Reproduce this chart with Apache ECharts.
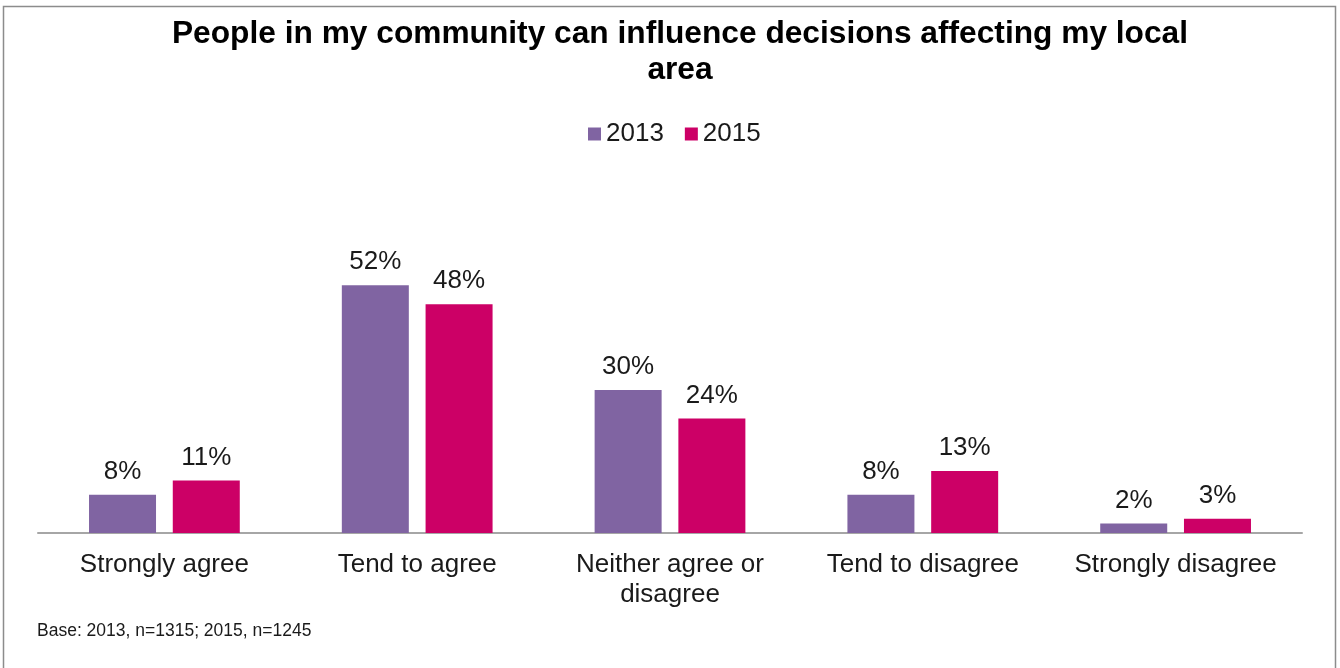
<!DOCTYPE html>
<html>
<head>
<meta charset="utf-8">
<script src="https://cdn.jsdelivr.net/npm/echarts@6/dist/echarts.min.js"></script>
<style>
  html, body { margin: 0; padding: 0; background: #fff; }
  #chart { width: 1340px; height: 668px; }
</style>
</head>
<body>
<div id="chart"></div>
<script>
// Survey responses, percent of respondents
const categories = ['Strongly agree', 'Tend to agree', 'Neither agree or\ndisagree', 'Tend to disagree', 'Strongly disagree'];
const values2013 = [8, 52, 30, 8, 2];
const values2015 = [11, 48, 24, 13, 3];
const seriesNames = ['2013', '2015'];
const titleText = 'People in my community can influence decisions affecting my local\narea';
const baseNote = 'Base: 2013, n=1315; 2015, n=1245';

const FONT = '"Liberation Sans", Arial, sans-serif';
const chart = echarts.init(document.getElementById('chart'));

const labelStyle = {
  show: true,
  position: 'top',
  distance: 10,
  formatter: p => p.value + '%',
  fontFamily: FONT,
  fontSize: 26,
  color: '#1a1a1a'
};

chart.setOption({
  animation: false,
  backgroundColor: '#fff',
  title: {
    text: titleText,
    left: 675,
    top: 11,
    textAlign: 'center',
    textStyle: {
      fontFamily: FONT,
      fontSize: 31.7,
      fontWeight: 'bold',
      color: '#000',
      lineHeight: 36
    }
  },
  legend: {
    data: seriesNames,
    top: 116,
    left: 583,
    itemWidth: 13,
    itemHeight: 13,
    itemGap: 21,
    icon: 'rect',
    textStyle: { fontFamily: FONT, fontSize: 26, color: '#1a1a1a', padding: [0, 0, 0, 0] }
  },
  grid: { left: 38, right: 38, top: 247, bottom: 135, containLabel: false },
  xAxis: {
    type: 'category',
    data: categories,
    axisLine: { lineStyle: { color: '#a6a6a6', width: 2 } },
    axisTick: { show: false },
    axisLabel: {
      fontFamily: FONT,
      fontSize: 26,
      color: '#1a1a1a',
      lineHeight: 30,
      margin: 17,
      interval: 0
    }
  },
  yAxis: {
    type: 'value',
    min: 0,
    max: 60,
    show: false,
    splitLine: { show: false }
  },
  series: [
    {
      name: seriesNames[0],
      type: 'bar',
      data: values2013,
      barWidth: 67,
      barGap: '25%',
      itemStyle: { color: '#8064A2' },
      label: labelStyle
    },
    {
      name: seriesNames[1],
      type: 'bar',
      data: values2015,
      barWidth: 67,
      itemStyle: { color: '#CC0066' },
      label: labelStyle
    }
  ],
  graphic: [
    {
      type: 'rect',
      shape: { x: 3.5, y: 6.5, width: 1332, height: 670 },
      style: { fill: 'none', stroke: '#8c8c8c', lineWidth: 1.5 },
      silent: true
    },
    {
      type: 'text',
      left: 37,
      top: 622,
      style: { text: baseNote, fontFamily: FONT, fontSize: 17.5, fill: '#1a1a1a' }
    }
  ]
});
</script>
</body>
</html>
